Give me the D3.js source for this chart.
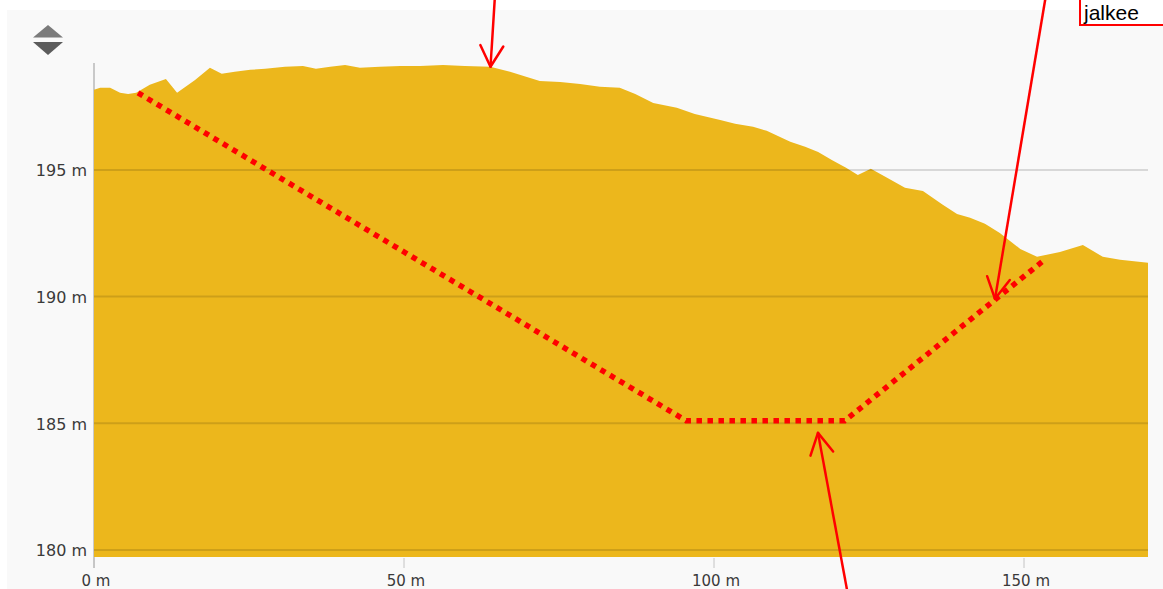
<!DOCTYPE html>
<html>
<head>
<meta charset="utf-8">
<script src="https://cdn.jsdelivr.net/npm/d3@7/dist/d3.min.js"></script>
<style>
html,body{margin:0;padding:0;background:#fff;overflow:hidden;}
svg{display:block;}
</style>
</head>
<body>
<svg id="chart" width="1163" height="589"></svg>
<script>
// ---- data ----
const distances = [0,1.0,2.6,4.2,5.5,6.8,9.0,11.6,13.4,16.3,18.7,20.6,22.7,25.2,27.6,30.8,33.7,35.8,38.1,40.5,42.9,46.1,49.4,52.6,56.3,59.8,63.9,67.1,71.9,75.2,78.4,81.6,84.8,87.3,90.2,94.0,96.9,101.0,103.4,106.3,108.5,112.3,114.7,116.8,119.0,121.3,123.2,125.3,127.7,130.8,133.7,136.9,139.2,141.3,143.7,146.1,149.4,152.1,155.8,159.5,162.7,165.5,170.0];
const elevations = [198.16,198.24,198.24,198.04,198.00,198.04,198.36,198.59,198.04,198.55,199.03,198.79,198.87,198.95,198.99,199.07,199.10,198.99,199.07,199.14,199.03,199.07,199.10,199.10,199.14,199.10,199.07,198.87,198.51,198.47,198.39,198.28,198.24,198.00,197.64,197.45,197.21,196.97,196.82,196.70,196.54,196.11,195.91,195.71,195.39,195.08,194.80,195.04,194.72,194.29,194.17,193.62,193.26,193.11,192.87,192.51,191.88,191.57,191.76,192.04,191.57,191.45,191.33];

// planned cut (red dotted line)
const cutDistances = [7.1, 95.5, 121.1, 152.9];
const cutElevations = [198.04, 185.1, 185.1, 191.37];

// annotation arrows: start and tip in data units
const arrowStartD = [64.68, 153.55, 121.61];
const arrowStartE = [201.91, 201.91, 178.22];
const arrowTipD   = [63.95, 145.32, 116.77];
const arrowTipE   = [199.07, 189.91, 184.62];

const yTicks = [180, 185, 190, 195];
const yTickLabels = ["180 m", "185 m", "190 m", "195 m"];
const xTicks = [0, 50, 100, 150];
const xTickLabels = ["0 m", "50 m", "100 m", "150 m"];
const noteText = "jalkee";

// ---- layout ----
const svg = d3.select("#chart");
const W = 1163, H = 589;
const x = d3.scaleLinear().domain([0, 170]).range([94, 1148]);
const y = d3.scaleLinear().domain([179.72, 199.14]).range([557, 65]);

// panel background
svg.append("rect").attr("x", 7).attr("y", 10).attr("width", W - 7).attr("height", H - 10).attr("fill", "#f9f9f9");

// up/down icon
svg.append("path").attr("d", "M33,37.5 L63,37.5 L48,25 Z").attr("fill", "#7b7b7b");
svg.append("path").attr("d", "M33,42 L63,42 L48,55 Z").attr("fill", "#5c5c5c");

// y axis line
svg.append("line").attr("x1", x(0)).attr("x2", x(0)).attr("y1", 63).attr("y2", 568)
  .attr("stroke", "#a8a8a8").attr("stroke-width", 1.2);

// area
const profile = distances.map((d, i) => ({d, e: elevations[i]}));
const area = d3.area().x(p => x(p.d)).y0(y(179.72)).y1(p => y(p.e));
svg.append("path").datum(profile).attr("d", area).attr("fill", "#ecb71c");

// gridlines
svg.append("g").selectAll("line").data(yTicks).join("line")
  .attr("x1", x(0)).attr("x2", x(170))
  .attr("y1", d => y(d)).attr("y2", d => y(d))
  .attr("stroke", "#000").attr("stroke-opacity", 0.13).attr("stroke-width", 2);

// y labels
svg.append("g").selectAll("text").data(yTicks).join("text")
  .attr("x", 87).attr("y", d => y(d) + 1)
  .attr("text-anchor", "end").attr("dominant-baseline", "central")
  .attr("font-family", "DejaVu Sans, sans-serif").attr("font-size", 16)
  .attr("fill", "#3a3a3a")
  .text((d, i) => yTickLabels[i]);

// x ticks
svg.append("g").selectAll("line").data(xTicks).join("line")
  .attr("x1", d => x(d)).attr("x2", d => x(d)).attr("y1", 558).attr("y2", 568)
  .attr("stroke", "#c4c4c4").attr("stroke-width", 1);
svg.append("g").selectAll("text").data(xTicks).join("text")
  .attr("x", d => x(d) + 2).attr("y", 586)
  .attr("text-anchor", "middle")
  .attr("font-family", "DejaVu Sans, sans-serif").attr("font-size", 15)
  .attr("fill", "#3a3a3a")
  .text((d, i) => xTickLabels[i]);

// red dotted cut line
const cut = cutDistances.map((d, i) => [x(d), y(cutElevations[i])]);
svg.append("path").attr("d", d3.line()(cut))
  .attr("fill", "none").attr("stroke", "#ff0000").attr("stroke-width", 5.5)
  .attr("stroke-dasharray", "5.5,5.5");

// arrows
const red = "#ff0000";
arrowTipD.forEach((td, i) => {
  const tx = x(td), ty = y(arrowTipE[i]);
  const sx = x(arrowStartD[i]), sy = y(arrowStartE[i]);
  svg.append("line").attr("x1", sx).attr("y1", sy).attr("x2", tx).attr("y2", ty)
    .attr("stroke", red).attr("stroke-width", 2.5);
  const ang = Math.atan2(sy - ty, sx - tx);
  const L = 24, a = 0.5;
  [ang - a, ang + a].forEach(t => {
    svg.append("line").attr("x1", tx).attr("y1", ty)
      .attr("x2", tx + L * Math.cos(t)).attr("y2", ty + L * Math.sin(t))
      .attr("stroke", red).attr("stroke-width", 2.5).attr("stroke-linecap", "round");
  });
});

// note box (runs off the top-right corner, as in the reference)
svg.append("rect").attr("x", 1080).attr("y", -20).attr("width", 120).attr("height", 45)
  .attr("fill", "#fff").attr("stroke", red).attr("stroke-width", 2);
svg.append("text").attr("x", 1084).attr("y", 19.5)
  .attr("font-family", "Liberation Sans, Arial, sans-serif").attr("font-size", 21)
  .attr("fill", "#000").text(noteText);
</script>
</body>
</html>
